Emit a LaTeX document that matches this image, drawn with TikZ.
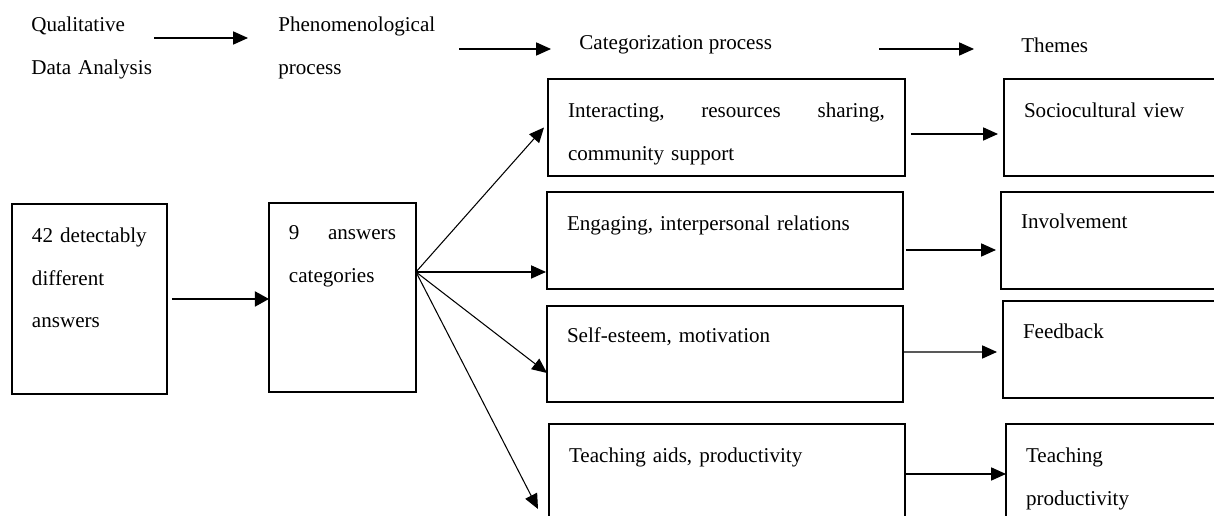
\documentclass[tikz,border=0pt]{standalone}
\usepackage{fontspec}
\setmainfont{Liberation Serif}
\usetikzlibrary{arrows.meta,calc}

\begin{document}
\begin{tikzpicture}[x=0.02cm,y=-0.02cm,
    every node/.style={font=\fontsize{12}{24}\selectfont},
    box/.style={draw,line width=1pt,anchor=north west,outer sep=0pt,inner xsep=0.4cm,inner ysep=0pt,align=left},
    head/.style={anchor=base west,inner sep=0pt,align=left},
    arr/.style={-{Triangle[length=8.5pt,width=7.5pt]},line width=0.6pt}]
  \useasboundingbox (0,0) rectangle (1214,516);
  \clip (0,0) rectangle (1214,516);

  % top row
  \node[head,text width=3cm] (qda) at (31,32) {Qualitative\\Data Analysis};
  \node[head,text width=3.2cm] (phen) at (278,32) {Phenomenological\\process};
  \node[head] (catp) at (579,50) {Categorization process};
  \node[head] (thm) at (1021,53) {Themes};
  \draw[arr] ($(qda.base west)+(123,6)$) -- ($(phen.base west)+(-30,6)$);
  \draw[arr] ($(phen.base west)+(181,17)$) -- ($(catp.base west)+(-28,-1)$);
  \draw[arr] ($(catp.base west)+(300,-1)$) -- ($(thm.base west)+(-47,-4)$);

  % answers
  \node[box,text width=2.3cm,text height=0.78cm,text depth=3.02cm] (ans) at (12,204) {42 detectably\\different\\answers};
  \node[box,text width=2.14cm,text height=0.74cm,text depth=3.04cm] (cats) at (269,203) {9\hfill answers\\categories};
  \draw[-{Triangle[length=8pt,width=8.5pt]},line width=1.2pt,shorten <=0.1cm] (ans.east) -- (ans.east -| cats.west);

  % categories
  \node[box,text width=6.34cm,text height=0.78cm,text depth=1.16cm] (ia) at (548,79) {Interacting,\hfill resources\hfill sharing,\\community support};
  \node[box,text width=6.32cm,text height=0.78cm,text depth=1.16cm] (eng) at (547,192) {Engaging, interpersonal relations};
  \node[box,text width=6.32cm,text height=0.74cm,text depth=1.18cm] (sem) at (547,306) {Self-esteem, motivation};
  \node[box,text width=6.32cm,text height=0.78cm,text depth=1.16cm] (tap) at (549,424) {Teaching aids, productivity};

  \coordinate (fan) at ($(cats.east)+(0,-25.5)$);
  \draw[arr] (fan) -- ($(ia.west)+(-4,0)$);
  \draw[arr] (fan) -- ($(fan -| eng.west)+(-1,0)$);
  \draw[arr] (fan) -- ($(sem.west)+(0,19)$);
  \draw[arr] (fan) -- ($(tap.north west)+(-11,85)$);

  % themes
  \node[box,text width=4.2cm,text height=0.78cm,text depth=1.16cm] (soc) at (1004,79) {Sociocultural view};
  \node[box,text width=4.2cm,text height=0.74cm,text depth=1.2cm] (inv) at (1001,192) {Involvement};
  \node[box,text width=4.2cm,text height=0.76cm,text depth=1.18cm] (fb) at (1003,301) {Feedback};
  \node[box,text width=4.2cm,text height=0.78cm,text depth=1.16cm] (tp) at (1006,424) {Teaching\\productivity};

  \draw[arr] ($(ia.east)+(6,6.5)$) -- ($(soc.west)+(-6,6.5)$);
  \draw[arr] ($(eng.east)+(3,9.5)$) -- ($(inv.west)+(-5,9.5)$);
  \draw[arr] ($(sem.east)+(0,-2)$) -- ($(fb.west)+(-6,2.5)$);
  \draw[arr] ($(tap.east)+(1,1.5)$) -- ($(tp.west)+(0,1.5)$);
\end{tikzpicture}
\end{document}
